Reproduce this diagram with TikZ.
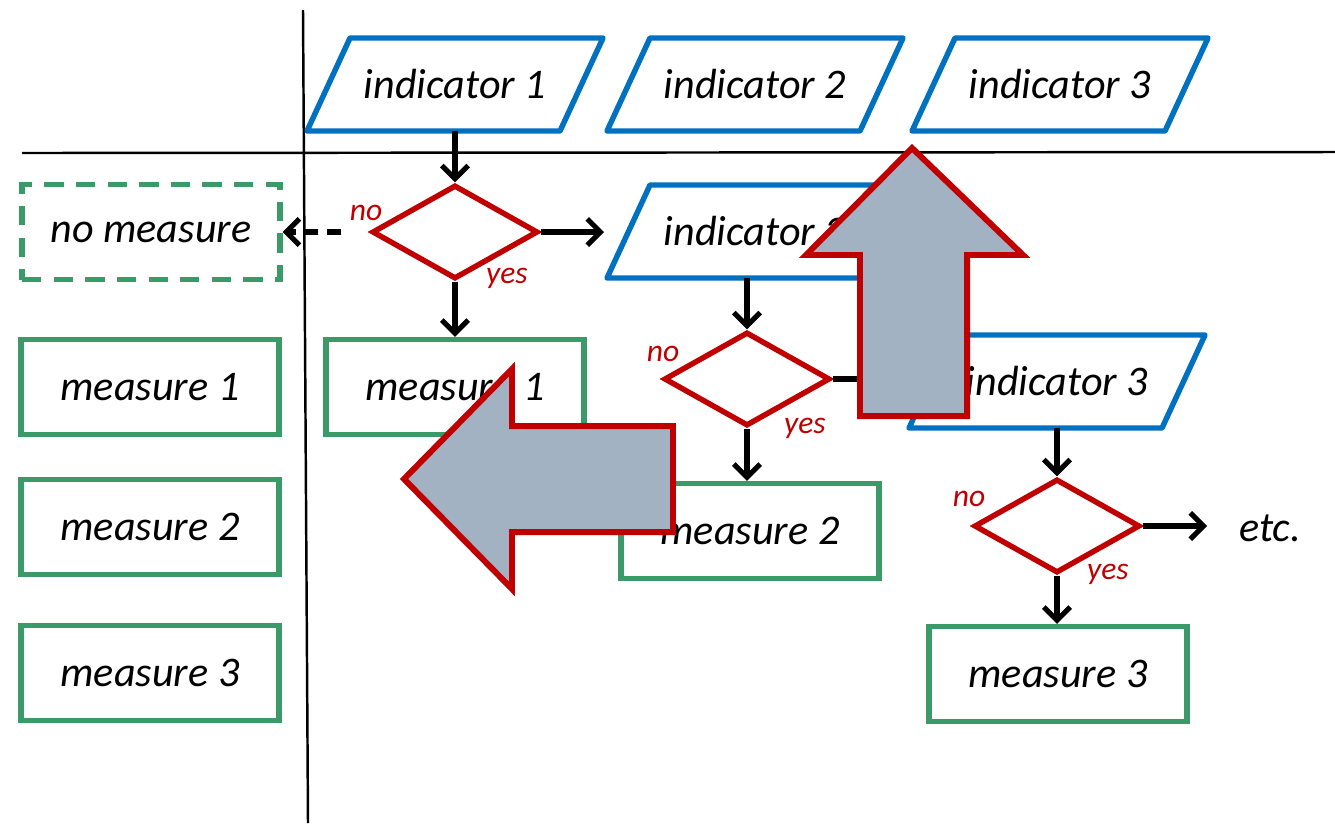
\documentclass[tikz,border=0pt]{standalone}
\usepackage{fontspec}
\setmainfont{Carlito}
\usetikzlibrary{arrows.meta,shapes.geometric,calc}
\definecolor{flowblue}{HTML}{0070C0}
\definecolor{flowred}{HTML}{C00000}
\definecolor{flowgreen}{HTML}{3A9B68}
\definecolor{slatefill}{HTML}{A3B2C2}

% input (parallelogram) box: outline path plus a named text node
\newcommand\inputshape[4]{%
  \draw[paraline] (#2-148,#3+46.5) -- ++(253,0) -- ++(43,-93) -- ++(-253,0) -- cycle;
  \node[inputbox] (#1) at (#2,#3) {#4};}

\begin{document}
\begin{tikzpicture}[x=0.02cm,y=-0.02cm,
  txt/.style={font=\fontsize{24}{28}\selectfont\itshape},
  lbl/.style={font=\fontsize{18}{21}\selectfont\itshape, text=flowred, inner sep=0pt},
  inputbox/.style={txt, minimum width=4.2cm, minimum height=1.86cm, inner sep=0pt},
  paraline/.style={draw=flowblue, line width=3.1pt, line join=round, fill=white},
  decision/.style={diamond, draw=flowred, line width=3.1pt, minimum width=3.32cm,
    minimum height=1.88cm, inner sep=0pt, fill=white},
  measurebox/.style={txt, draw=flowgreen, line width=3.1pt, minimum width=5.16cm,
    minimum height=1.9cm, fill=white},
  flow/.style={line width=2.9pt, -{Straight Barb[length=7.5pt,width=15pt]}},
  bigarrow/.style={fill=slatefill, draw=flowred, line width=3.4pt, line join=miter},
  gridline/.style={line width=1.4pt}
]
\useasboundingbox (0,0) rectangle (1335,823);

% table rules
\coordinate (vtop) at (303,10);
\coordinate (vbot) at (308,823);
\coordinate (hleft) at (22,153);
\coordinate (hright) at (1335,152);
\draw[gridline] (vtop) -- (vbot);
\draw[gridline] (hleft) -- (hright);

% header row
\inputshape{ind1}{455}{84.5}{indicator 1}
\inputshape{ind2}{755}{84.5}{indicator 2}
\inputshape{ind3}{1060}{84.5}{indicator 3}

% left column
\node[measurebox, dash pattern=on 11pt off 7pt] (nomeas) at (151,232) {no measure};
\node[measurebox] (m1L) at (150,387) {measure 1};
\node[measurebox] (m2L) at (150,527) {measure 2};
\node[measurebox] (m3L) at (150,673) {measure 3};

% decision chain
\node[decision] (d1) at (455,232) {};
\node[measurebox] (m1) at (455,387) {measure 1};
\inputshape{ind2b}{755}{231.5}{indicator 2}
\node[decision] (d2) at (747,379) {};
\node[measurebox] (m2) at (750,531) {measure 2};
\inputshape{ind3b}{1057}{381.5}{indicator 3}
\node[decision] (d3) at (1057,526) {};
\node[measurebox] (m3) at (1058,674) {measure 3};
\node[txt] (etc) at (1270,528) {etc.};

% branch labels
\node[lbl] (no1) at (366,213) {no};
\node[lbl] (yes1) at (507,278) {yes};
\node[lbl] (no2) at (663,354) {no};
\node[lbl] (yes2) at (805,428) {yes};
\node[lbl] (no3) at (969,499) {no};
\node[lbl] (yes3) at (1108,574) {yes};

% connectors
\coordinate (c1) at (604,232);
\coordinate (c2) at (905,379);
\coordinate (c3) at (1207,526);
\draw[flow] (ind1.south) -- (d1.north);
\draw[flow] (d1.east) -- (c1);
\draw[flow, dash pattern=on 8pt off 5pt] ($(d1.west)+(-28,0)$) -- (nomeas.east);
\draw[flow] (d1.south) -- (m1.north);
\draw[flow] (d2.north |- ind2b.south) -- (d2.north);
\draw[flow] (d2.east) -- (c2);
\draw[flow] (d2.south) -- (d2.south |- m2.north);
\draw[flow] (ind3b.south) -- (d3.north);
\draw[flow] (d3.east) -- (c3);
\draw[flow] (d3.south) -- (d3.south |- m3.north);

% block arrows on top
\draw[bigarrow] (912,148) -- (1023,255) -- (967,255) -- (967,416) -- (860,416)
  -- (860,255) -- (806,255) -- cycle;
\draw[bigarrow] (404,479) -- (512,369) -- (512,426) -- (673,426) -- (673,532)
  -- (512,532) -- (512,589) -- cycle;
\end{tikzpicture}
\end{document}
